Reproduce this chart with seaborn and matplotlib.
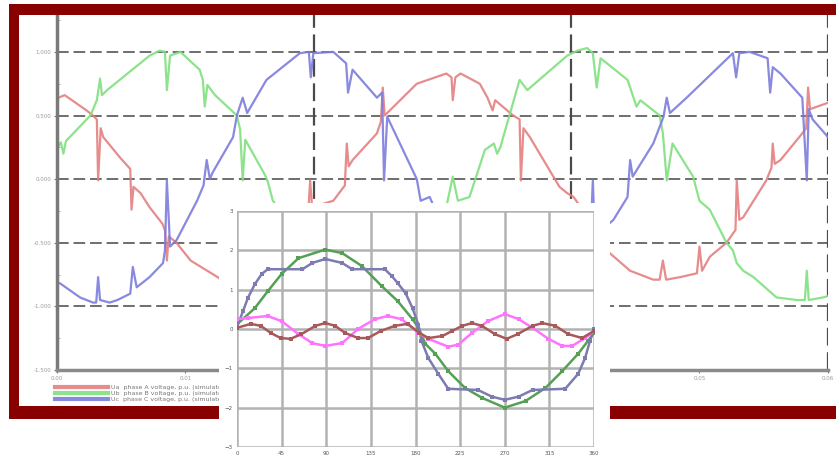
import matplotlib
matplotlib.use("Agg")
import matplotlib.pyplot as plt
import numpy as np
import pandas as pd
import seaborn as sns
from matplotlib.patches import Rectangle
from matplotlib.ticker import MultipleLocator

# ---------------- data: background three-phase chart (time, p.u.) ----------------
red_points = [(0.0, 0.55), (0.1, 0.64), (0.6, 0.66), (2.3, 0.54), (2.8, 0.50), (3.1, 0.47),
              (3.2, -0.01), (3.4, 0.40), (3.6, 0.33), (4.9, 0.17), (5.7, 0.08), (5.8, -0.24),
              (5.95, -0.06), (6.5, -0.11), (7.2, -0.22), (8.2, -0.35), (8.4, -0.40), (8.55, -0.64),
              (8.7, -0.45), (9.3, -0.50), (10.4, -0.64), (12.5, -0.77), (14.5, -0.92), (17.0, -0.75),
              (19.5, -0.35), (19.7, -0.01), (19.85, -0.22), (21.5, -0.17), (22.4, -0.05), (22.55, 0.28),
              (22.7, 0.10), (23.0, 0.15), (24.9, 0.36), (25.2, 0.45), (25.35, 0.72), (25.5, 0.50),
              (25.9, 0.54), (28.0, 0.75), (30.3, 0.83), (30.7, 0.80), (30.8, 0.62), (31.0, 0.80),
              (31.4, 0.83), (32.9, 0.75), (33.5, 0.64), (33.9, 0.54), (34.1, 0.62), (35.5, 0.50),
              (36.0, 0.47), (36.1, -0.01), (36.3, 0.40), (36.8, 0.33), (39.1, -0.06), (39.7, -0.11),
              (40.2, -0.14), (42.0, -0.40), (43.0, -0.58), (44.6, -0.72), (46.4, -0.79), (46.9, -0.79),
              (47.15, -0.64), (47.4, -0.79), (48.5, -0.77), (49.8, -0.74), (50.0, -0.53), (50.2, -0.72),
              (50.8, -0.61), (52.1, -0.50), (52.8, -0.40), (52.9, -0.01), (53.1, -0.32), (53.4, -0.30),
              (55.2, -0.01), (55.6, 0.09), (55.7, 0.28), (55.85, 0.12), (56.3, 0.15), (58.0, 0.36),
              (58.3, 0.40), (58.45, 0.72), (58.6, 0.55), (60.0, 0.60)]

green_points = [(0.0, 0.24), (0.3, 0.29), (0.5, 0.20), (0.7, 0.30), (2.6, 0.50), (3.1, 0.62),
                (3.35, 0.79), (3.5, 0.66), (3.9, 0.70), (7.2, 0.97), (8.0, 1.01), (8.4, 1.00),
                (8.55, 0.70), (8.8, 0.97), (9.6, 1.00), (11.1, 0.86), (11.35, 0.78), (11.5, 0.57),
                (11.7, 0.74), (12.3, 0.66), (14.0, 0.50), (14.25, 0.39), (14.45, -0.01), (14.65, 0.31),
                (16.2, 0.03), (16.4, -0.02), (16.8, -0.17), (19.7, -0.55), (22.0, -0.85), (24.9, -1.0),
                (27.5, -0.85), (29.8, -0.40), (30.4, -0.17), (30.8, 0.02), (31.2, -0.17), (32.1, -0.14),
                (33.3, 0.23), (34.0, 0.28), (34.25, 0.20), (34.5, 0.25), (36.0, 0.78), (36.6, 0.70),
                (39.7, 0.97), (40.5, 1.01), (41.25, 1.03), (41.7, 0.99), (42.0, 0.72), (42.3, 0.95),
                (42.8, 0.91), (44.4, 0.78), (45.1, 0.57), (45.4, 0.62), (46.9, 0.50), (47.15, 0.36),
                (47.45, -0.01), (47.9, 0.28), (49.5, 0.02), (50.0, -0.17), (50.8, -0.24), (51.6, -0.40),
                (52.1, -0.50), (52.6, -0.56), (52.9, -0.66), (53.4, -0.72), (54.2, -0.77), (56.0, -0.93),
                (57.6, -0.95), (58.2, -0.95), (58.35, -0.72), (58.5, -0.95), (59.6, -0.93), (60.0, -0.92)]

blue_points = [(0.0, -0.81), (0.25, -0.82), (1.8, -0.93), (2.8, -0.97), (3.05, -0.97), (3.2, -0.77),
               (3.35, -0.95), (4.1, -0.97), (4.7, -0.95), (5.7, -0.90), (5.9, -0.69), (6.2, -0.85),
               (7.2, -0.77), (8.25, -0.66), (8.4, -0.56), (8.55, -0.01), (8.8, -0.53), (9.3, -0.48),
               (10.9, -0.17), (11.4, -0.05), (11.65, 0.15), (11.9, 0.0), (12.1, 0.05), (13.7, 0.33),
               (14.0, 0.50), (14.45, 0.64), (14.8, 0.52), (16.3, 0.78), (18.9, 0.99), (19.6, 1.0),
               (19.75, 0.80), (19.95, 0.99), (21.5, 1.0), (22.5, 0.91), (22.65, 0.68), (23.0, 0.86),
               (24.9, 0.64), (25.3, 0.68), (25.45, -0.01), (25.7, 0.49), (28.0, 0.0), (28.3, -0.17),
               (29.0, -0.14), (31.0, -0.60), (33.5, -0.90), (36.5, -1.0), (39.0, -0.85), (41.5, -0.50),
               (41.7, -0.01), (41.85, -0.45), (43.3, -0.32), (44.4, -0.14), (44.6, 0.15), (44.8, 0.02),
               (46.4, 0.28), (47.2, 0.49), (47.45, 0.64), (47.7, 0.52), (49.0, 0.64), (52.6, 0.99),
               (52.85, 0.80), (53.1, 0.99), (53.9, 1.0), (55.3, 0.95), (55.5, 0.68), (55.7, 0.88),
               (56.3, 0.83), (58.0, 0.64), (58.35, -0.01), (58.5, 0.55), (58.8, 0.47), (60.0, 0.33)]

bg_labels = ["Ua  phase A voltage, p.u. (simulated)",
             "Ub  phase B voltage, p.u. (simulated)",
             "Uc  phase C voltage, p.u. (simulated)"]
bg_colors = ["#e48080", "#80e080", "#7c7cdc"]
bg_yticks = [-1.5, -1.0, -0.5, 0.0, 0.5, 1.0]
bg_xticks = [0, 10, 20, 30, 40, 50, 60]

# ---------------- data: inset chart (angle in degrees) ----------------
inset_green = [(0, 0.12), (18, 0.53), (31, 0.96), (45, 1.4), (62, 1.8), (89, 2.02), (106, 1.93),
               (126, 1.6), (146, 1.09), (162, 0.71), (177, 0.25), (183, 0.03), (190, -0.38),
               (200, -0.63), (213, -1.07), (230, -1.5), (247, -1.75), (270, -2.0), (291, -1.83),
               (311, -1.5), (328, -1.07), (344, -0.63), (354, -0.3), (360, -0.1)]
inset_blue = [(0, 0.05), (6, 0.45), (11, 0.79), (18, 1.14), (25, 1.4), (31, 1.52), (66, 1.52),
              (76, 1.68), (89, 1.78), (106, 1.68), (116, 1.52), (149, 1.52), (156, 1.35),
              (162, 1.17), (170, 0.91), (177, 0.53), (183, 0.1), (186, -0.3), (193, -0.74),
              (203, -1.14), (213, -1.52), (243, -1.55), (257, -1.72), (270, -1.8), (284, -1.72),
              (298, -1.55), (331, -1.52), (344, -1.14), (351, -0.74), (356, -0.3), (360, 0.0)]
inset_pink = [(0, 0.25), (11, 0.28), (31, 0.33), (45, 0.2), (62, -0.13), (76, -0.36), (89, -0.43),
              (106, -0.36), (122, 0.0), (139, 0.25), (152, 0.33), (166, 0.25), (183, -0.1),
              (193, -0.25), (213, -0.45), (223, -0.4), (237, -0.1), (253, 0.2), (270, 0.38),
              (284, 0.25), (298, 0.03), (314, -0.25), (328, -0.43), (338, -0.43), (351, -0.23),
              (360, -0.05)]
inset_brown = [(0, 0.03), (14, 0.13), (24, 0.08), (34, -0.1), (44, -0.23), (54, -0.25), (65, -0.13),
               (79, 0.08), (89, 0.15), (99, 0.08), (109, -0.1), (122, -0.23), (132, -0.23),
               (145, -0.05), (159, 0.08), (172, 0.13), (184, -0.1), (193, -0.23), (207, -0.18),
               (217, -0.05), (227, 0.08), (237, 0.15), (247, 0.08), (260, -0.13), (272, -0.25),
               (283, -0.13), (298, 0.08), (308, 0.15), (321, 0.08), (334, -0.13), (348, -0.23),
               (360, -0.05)]
inset_names = ["fundamental", "total", "3rd harmonic", "5th harmonic"]
inset_colors = ["#55a055", "#7c7cb0", "#ff74ff", "#a85a5a"]
inset_xticks = list(range(0, 361, 45))
inset_yticks = [-3, -2, -1, 0, 1, 2, 3]

# ---------------- figure ----------------
W, H = 837, 462
fig = plt.figure(figsize=(W / 100, H / 100), dpi=100, facecolor="white")


def add_rect(x0, y0, x1, y1, color, z):
    fig.patches.append(Rectangle((x0 / W, 1 - y1 / H), (x1 - x0) / W, (y1 - y0) / H,
                                 transform=fig.transFigure, figure=fig,
                                 facecolor=color, edgecolor="none", zorder=z))


# dark red frame
frame = "#880000"
add_rect(10, 4, 837, 15, frame, 3)
add_rect(9, 4, 19, 419, frame, 3)
add_rect(9, 406, 837, 419, frame, 3)

# background chart
ax = fig.add_axes([57 / W, 1 - 370 / H, (828 - 57) / W, (370 - 15) / H], zorder=1)
ax.set_facecolor("none")
bg_frames = []
for pts, lab in zip([red_points, green_points, blue_points], bg_labels):
    d = pd.DataFrame(pts, columns=["t", "v"])
    d["phase"] = lab
    bg_frames.append(d)
df_bg = pd.concat(bg_frames, ignore_index=True)
sns.lineplot(data=df_bg, x="t", y="v", hue="phase", palette=bg_colors, estimator=None,
             sort=False, lw=1.6, alpha=0.9, ax=ax)
ax.set_xlim(0, 60)
ax.set_ylim(-1.5, 1.29)
ax.set_xticks(bg_xticks)
ax.set_yticks(bg_yticks)
ax.set_xticklabels([f"{v / 1000:.2f}" for v in bg_xticks])
ax.set_yticklabels([f"{v:.3f}" for v in bg_yticks])
ax.yaxis.set_minor_locator(MultipleLocator(0.25))
ax.set_xlabel("")
ax.set_ylabel("")
for y in [-1.0, -0.5, 0.0, 0.5, 1.0]:
    ax.axhline(y, color="#6e6e6e", lw=1.4, ls=(0, (6, 2.5)), zorder=0.5)
for x in [20, 40, 60]:
    ax.axvline(x, color="#4a4a4a", lw=1.6, ls=(0, (8, 3)), zorder=0.5)
for s in ["top", "right"]:
    ax.spines[s].set_visible(False)
ax.spines["left"].set_color("#7a7a7a")
ax.spines["left"].set_linewidth(2.5)
ax.spines["bottom"].set_color("#8a8a8a")
ax.spines["bottom"].set_linewidth(2.5)
ax.tick_params(axis="both", which="major", labelsize=4, labelcolor="#9a9a9a",
               color="#7a7a7a", length=2, pad=2)
ax.tick_params(axis="y", which="minor", length=2, color="#9a9a9a", direction="in")
handles, labels = ax.get_legend_handles_labels()
leg = ax.legend(handles, labels, loc="upper left", bbox_to_anchor=(52 / W, 1 - 382 / H),
                bbox_transform=fig.transFigure, fontsize=4.5, handlelength=8.5,
                labelspacing=0.1, handletextpad=0.4, borderpad=0, frameon=False,
                labelcolor="#777777")
for ln in leg.get_lines():
    ln.set_linewidth(3)

# inset white box and chart
add_rect(219, 203, 610, 462, "white", 4)
ax2 = fig.add_axes([237 / W, 1 - 447 / H, (594 - 237) / W, (447 - 211) / H], zorder=5)
ax2.set_facecolor("white")
in_frames = []
for pts, lab in zip([inset_green, inset_blue, inset_pink, inset_brown], inset_names):
    d = pd.DataFrame(pts, columns=["deg", "val"])
    d["series"] = lab
    in_frames.append(d)
df_in = pd.concat(in_frames, ignore_index=True)
sns.lineplot(data=df_in, x="deg", y="val", hue="series", palette=inset_colors, estimator=None,
             sort=False, lw=1.8, marker="s", markersize=2.4, markeredgewidth=0,
             legend=False, ax=ax2, zorder=3)
ax2.set_xlim(0, 360)
ax2.set_ylim(-3, 3)
ax2.set_xticks(inset_xticks)
ax2.set_yticks(inset_yticks)
ax2.set_xlabel("")
ax2.set_ylabel("")
ax2.grid(True, color="#b2b2b2", lw=1.8)
ax2.set_axisbelow(True)
for s in ax2.spines.values():
    s.set_visible(False)
ax2.tick_params(axis="both", length=0, labelsize=4, labelcolor="#555555", pad=3)

fig.savefig("out.png", dpi=100, facecolor="white")
